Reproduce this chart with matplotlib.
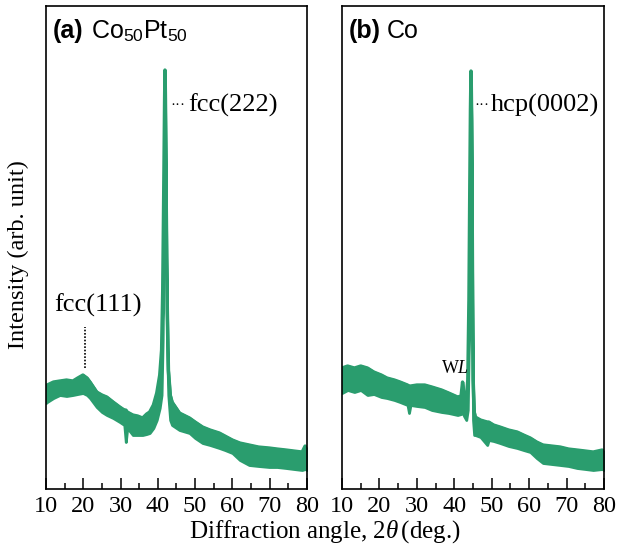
import numpy as np
import matplotlib as mpl
mpl.use('Agg')
import matplotlib.pyplot as plt
from matplotlib.ticker import MultipleLocator

mpl.rcParams.update({'font.family': 'Liberation Serif',
                     'mathtext.fontset': 'custom',
                     'mathtext.rm': 'Liberation Serif',
                     'mathtext.it': 'Liberation Serif:italic',
                     'mathtext.sf': 'Liberation Sans'})

green = '#2a9d6e'

# (a) Co50Pt50 -- 2theta (deg), upper / lower edge of the noisy trace (arb. unit)
tt_a = [10.0, 10.3, 12.0, 13.7, 15.5, 17.2, 18.5, 19.9, 21.0, 21.8,
        23.6, 25.0, 26.3, 28.0, 29.8, 31.0, 31.4, 31.8, 33.3, 34.6,
        35.9, 37.0, 37.8, 38.8, 39.7, 40.5, 41.0,
        41.3, 41.6, 41.8, 41.9, 42.0, 42.2, 42.5, 42.8, 43.3, 43.8,
        45.8, 48.5, 50.0, 52.0, 54.0, 56.5, 58.0, 60.0, 62.0, 64.5,
        67.0, 69.9, 72.0, 74.4, 76.5, 78.7, 79.5, 80.0]
top_a = [102, 103, 106, 107, 108, 107, 110, 113, 110, 106,
         96, 93, 91, 86, 81, 78, 78, 76, 73, 72,
         70, 74, 76, 83, 95, 113, 138,
         198, 308, 388, 418, 388, 288, 178, 118, 93, 86,
         75, 70, 66, 61, 58, 55, 52, 48, 45, 43,
         41, 40, 39, 38, 37, 36, 42, 38]
bot_a = [85, 86, 90, 93, 92, 93, 94, 95, 93, 90,
         81, 76, 73, 70, 66, 63, 46, 60, 53, 53,
         53, 54, 55, 60, 68, 80, 93,
         148, 258, 348, 408, 348, 238, 138, 93, 68, 63,
         58, 55, 50, 45, 43, 40, 38, 35, 28, 23,
         22, 21, 21, 20, 19, 18, 19, 18]

# (b) Co
tt_b = [10.0, 11.5, 13.3, 15.0, 16.8, 18.5, 20.5, 22.0, 24.0, 25.5,
        27.5, 27.9, 28.3, 30.0, 32.1, 34.0, 36.6, 38.5, 40.9, 41.8,
        42.2, 42.6, 43.2, 43.6, 43.9, 44.1, 44.3, 44.45, 44.6, 44.8,
        45.0, 45.3, 45.6, 47.0, 48.8, 49.2, 50.5, 52.2, 54.5, 56.8,
        58.5, 60.3, 62.0, 63.7, 66.0, 68.3, 70.5, 72.8, 75.0, 77.1,
        79.5, 80.0]
top_b = [120, 122, 120, 122, 120, 116, 113, 110, 108, 106,
         103, 102, 102, 103, 103, 101, 98, 95, 91, 92,
         106, 92, 90, 108, 188, 288, 378, 417, 368, 228,
         108, 76, 71, 68, 66, 66, 63, 61, 58, 56,
         53, 50, 46, 43, 42, 41, 39, 38, 37, 36,
         38, 36]
bot_b = [95, 98, 96, 98, 93, 94, 91, 90, 88, 86,
         83, 75, 83, 82, 81, 78, 76, 75, 73, 74,
         76, 72, 68, 78, 148, 238, 328, 408, 318, 158,
         68, 53, 53, 51, 43, 48, 47, 45, 42, 40,
         38, 36, 30, 25, 24, 23, 22, 20, 19, 18,
         19, 18]

fig = plt.figure(figsize=(6.19, 5.47), dpi=100)
ax_a = fig.add_axes([0.0743, 0.106, 0.4216, 0.883])
ax_b = fig.add_axes([0.5525, 0.106, 0.4233, 0.883])

for ax, tt, top, bot in [(ax_a, tt_a, top_a, bot_a), (ax_b, tt_b, top_b, bot_b)]:
    ax.fill_between(tt, bot, top, color=green, lw=2.0, edgecolor=green)
    ax.plot(tt, top, color=green, lw=2.4)
    ax.set_xlim(10, 80)
    ax.set_ylim(-1, 482)
    ax.xaxis.set_major_locator(MultipleLocator(10))
    ax.xaxis.set_minor_locator(MultipleLocator(5))
    ax.tick_params(axis='x', which='major', direction='in', length=8, width=1.1, labelsize=17.5, pad=5)
    ax.tick_params(axis='x', which='minor', direction='in', length=4, width=1.1)
    ax.set_yticks([])
    for s in ax.spines.values():
        s.set_linewidth(1.2)

# panel titles
ax_a.text(0.027, 0.933, '(a)', transform=ax_a.transAxes, fontsize=18, fontweight='bold',
          family='Liberation Sans', va='baseline')
ax_a.text(0.172, 0.933, r'Co$_{\mathsf{50}}$Pt$_{\mathsf{50}}$', transform=ax_a.transAxes,
          fontsize=18, family='Liberation Sans', va='baseline')
ax_b.text(0.027, 0.933, '(b)', transform=ax_b.transAxes, fontsize=18, fontweight='bold',
          family='Liberation Sans', va='baseline')
ax_b.text(0.172, 0.933, 'Co', transform=ax_b.transAxes, fontsize=18, family='Liberation Sans',
          va='baseline')

# peak labels
ax_a.text(43.3, 383, '\u00b7\u00b7\u00b7', fontsize=11, va='center', ha='left')
ax_a.text(48.1, 383, 'fcc(222)', fontsize=19, va='center', ha='left')
ax_a.text(12.3, 183, 'fcc(111)', fontsize=19, va='center', ha='left')
ax_a.plot([20.4, 20.4], [120, 161], color='black', lw=1.2, ls=(0, (1, 1)))

ax_b.text(45.4, 383, '\u00b7\u00b7\u00b7', fontsize=11, va='center', ha='left')
ax_b.text(49.8, 383, 'hcp(0002)', fontsize=19, va='center', ha='left')
ax_b.text(40.2, 120, r'W$\mathit{L}$', fontsize=13, va='center', ha='center')

fig.text(0.029, 0.534, 'Intensity (arb. unit)', rotation=90, fontsize=17.5, va='center', ha='center')
fig.text(0.525, 0.029, r'Diffraction angle, 2$\theta\,$(deg.)', fontsize=18, va='center', ha='center')

plt.savefig('out.png', dpi=100)
plt.close(fig)
